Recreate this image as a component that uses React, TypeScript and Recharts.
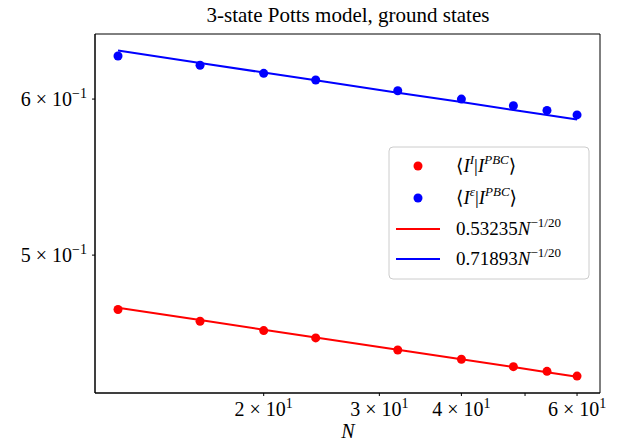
import React from "react";
import {
  ComposedChart,
  Line,
  Scatter,
  XAxis,
  YAxis,
  ReferenceArea,
} from "recharts";

// system sizes
const sizes = [12, 16, 20, 24, 32, 40, 48, 54, 60];
// <I^I|I^PBC> (red points)
const overlapI = [0.4692, 0.4628, 0.4578, 0.4539, 0.4475, 0.4427, 0.4389, 0.4365, 0.4341];
// <I^eps|I^PBC> (blue points)
const overlapEps = [0.631, 0.6242, 0.6183, 0.6135, 0.6059, 0.6, 0.5953, 0.5921, 0.589];
// fitted power-law curves
const fitI = [0.4702, 0.4635, 0.4583, 0.4541, 0.4477, 0.4427, 0.4387, 0.4361, 0.4338];
const fitEps = [0.635, 0.6259, 0.6189, 0.6133, 0.6045, 0.5979, 0.5924, 0.5889, 0.5858];

const xTicks = [20, 30, 40, 50, 60];
const xTickLabels: Record<number, [string, string]> = {
  20: ["2", "1"],
  30: ["3", "1"],
  40: ["4", "1"],
  60: ["6", "1"],
};
const yTicks = [0.5, 0.6];
const yTickLabels: Record<number, [string, string]> = {
  0.5: ["5", "\u22121"],
  0.6: ["6", "\u22121"],
};

const xDomain = [11.07, 65.03];
const yDomain = [0.4256, 0.6474];

const FONT = "'Liberation Serif', 'DejaVu Serif', serif";

const rows = sizes.map((N, i) => ({
  N,
  red: overlapI[i],
  blue: overlapEps[i],
  redFit: fitI[i],
  blueFit: fitEps[i],
}));

function XTick(props: any) {
  const { x, y, payload } = props;
  const lab = xTickLabels[payload.value];
  if (!lab) return null;
  return (
    <text x={x} y={y + 18} textAnchor="middle" fontFamily={FONT} fontSize={20} fill="#000">
      {lab[0]} × 10
      <tspan dy={-8} fontSize={14}>{lab[1]}</tspan>
    </text>
  );
}

function YTick(props: any) {
  const { x, y, payload } = props;
  const lab = yTickLabels[payload.value];
  if (!lab) return null;
  return (
    <text x={x} y={y + 7} textAnchor="end" fontFamily={FONT} fontSize={20} fill="#000">
      {lab[0]} × 10
      <tspan dy={-8} fontSize={14}>{lab[1]}</tspan>
    </text>
  );
}

const dot = (color: string) => (p: any) => <circle cx={p.cx} cy={p.cy} r={4.5} fill={color} />;

function Overlay() {
  const sup = { fontSize: 13, fontStyle: "italic" as const };
  return (
    <svg
      width={618}
      height={441}
      style={{ position: "absolute", left: 0, top: 0, pointerEvents: "none" }}
      fontFamily={FONT}
    >
      <text x={348} y={22} textAnchor="middle" fontSize={21}>
        3-state Potts model, ground states
      </text>
      <text x={348} y={438} textAnchor="middle" fontSize={20} fontStyle="italic">
        N
      </text>
      <rect x={389} y={147} width={200} height={132} rx={4} fill="#fff" fillOpacity={0.8} stroke="#ccc" />
      <circle cx={418} cy={166} r={4.5} fill="#ff0000" />
      <text x={456} y={172} fontSize={19}>
        ⟨<tspan fontStyle="italic">I</tspan>
        <tspan dy={-8} {...sup}>I</tspan>
        <tspan dy={8}>|</tspan>
        <tspan fontStyle="italic">I</tspan>
        <tspan dy={-8} {...sup}>PBC</tspan>
        <tspan dy={8}>⟩</tspan>
      </text>
      <circle cx={418} cy={198} r={4.5} fill="#0000ff" />
      <text x={456} y={204} fontSize={19}>
        ⟨<tspan fontStyle="italic">I</tspan>
        <tspan dy={-8} {...sup}>ε</tspan>
        <tspan dy={8}>|</tspan>
        <tspan fontStyle="italic">I</tspan>
        <tspan dy={-8} {...sup}>PBC</tspan>
        <tspan dy={8}>⟩</tspan>
      </text>
      <line x1={396} x2={440} y1={229} y2={229} stroke="#ff0000" strokeWidth={2} />
      <text x={456} y={235} fontSize={19}>
        0.53235<tspan fontStyle="italic">N</tspan>
        <tspan dy={-8} fontSize={13}>−1/20</tspan>
      </text>
      <line x1={396} x2={440} y1={259} y2={259} stroke="#0000ff" strokeWidth={2} />
      <text x={456} y={265} fontSize={19}>
        0.71893<tspan fontStyle="italic">N</tspan>
        <tspan dy={-8} fontSize={13}>−1/20</tspan>
      </text>
    </svg>
  );
}

export default function App() {
  return (
    <div style={{ position: "absolute", left: 0, top: 0, width: 618, height: 441, background: "#fff" }}>
      <ComposedChart
        width={618}
        height={441}
        data={rows}
        margin={{ top: 34, right: 18, bottom: 0, left: 0 }}
      >
        <XAxis
          dataKey="N"
          type="number"
          scale="log"
          domain={xDomain}
          allowDataOverflow
          ticks={xTicks}
          tick={<XTick />}
          tickSize={3}
          tickMargin={2}
          height={48}
          axisLine={{ stroke: "#000" }}
          tickLine={{ stroke: "#000" }}
        />
        <YAxis
          type="number"
          scale="log"
          domain={yDomain}
          allowDataOverflow
          ticks={yTicks}
          tick={<YTick />}
          tickSize={3}
          tickMargin={5}
          width={95}
          axisLine={{ stroke: "#000" }}
          tickLine={{ stroke: "#000" }}
        />
        <ReferenceArea
          x1={xDomain[0]}
          x2={xDomain[1]}
          y1={yDomain[0]}
          y2={yDomain[1]}
          fill="none"
          stroke="#000"
          strokeWidth={1}
          ifOverflow="visible"
        />
        <Line dataKey="redFit" stroke="#ff0000" strokeWidth={2} dot={false} isAnimationActive={false} />
        <Line dataKey="blueFit" stroke="#0000ff" strokeWidth={2} dot={false} isAnimationActive={false} />
        <Scatter dataKey="red" fill="#ff0000" shape={dot("#ff0000")} isAnimationActive={false} />
        <Scatter dataKey="blue" fill="#0000ff" shape={dot("#0000ff")} isAnimationActive={false} />
      </ComposedChart>
      <Overlay />
    </div>
  );
}
